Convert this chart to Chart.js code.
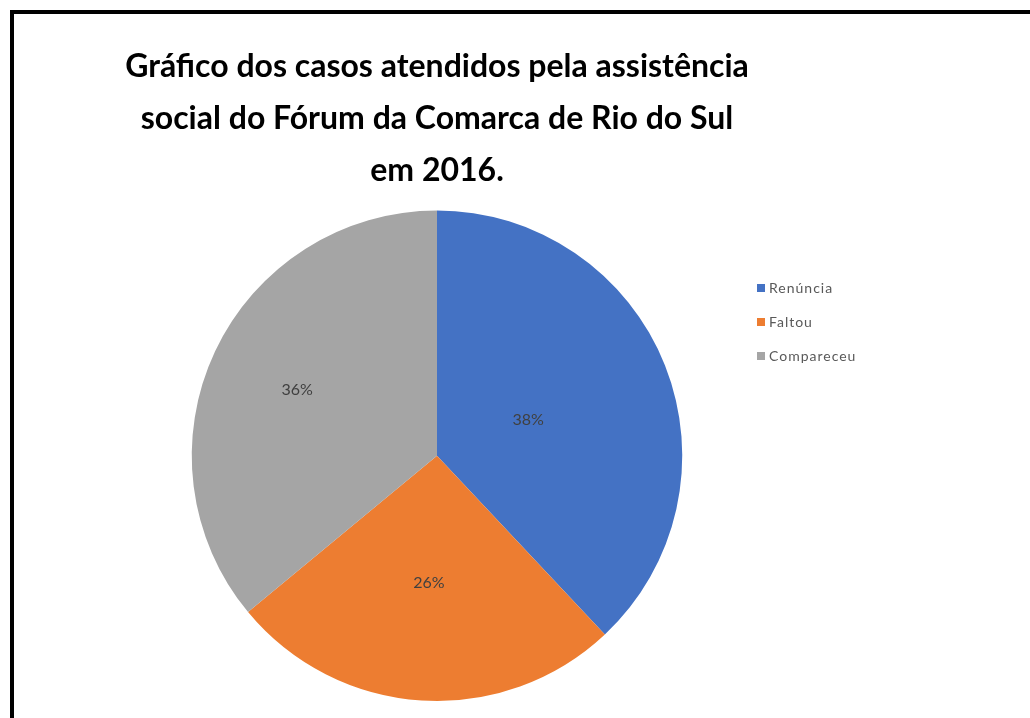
<!DOCTYPE html>
<html>
<head>
<meta charset="utf-8">
<script src="https://cdn.jsdelivr.net/npm/chart.js@4/dist/chart.umd.min.js"></script>
<style>
  html, body { margin: 0; padding: 0; background: #fff; overflow: hidden; }
  #frame { position: absolute; left: 10px; top: 10px; width: 1040px; height: 740px; border: 4px solid #000; }
  #wrap { position: absolute; left: 0; top: 0; width: 1030px; height: 718px; }
</style>
</head>
<body>
<div id="frame"></div>
<div id="wrap"><canvas id="chart"></canvas></div>
<script>
var titleLines = ["Gráfico dos casos atendidos pela assistência", "social do Fórum da Comarca de Rio do Sul", "em 2016."];
var categories = ["Renúncia", "Faltou", "Compareceu"];
var percents = [38, 26, 36];
var colors = ["#4472C4", "#ED7D31", "#A5A5A5"];
// how far out each slice label sits, as a share of the radius
var labelRadius = [0.4, 0.52, 0.63];

var sliceLabels = {
    id: "sliceLabels",
    afterDatasetsDraw: function(chart) {
        var ctx = chart.ctx;
        var meta = chart.getDatasetMeta(0);
        ctx.save();
        ctx.font = "16px Lato";
        ctx.fillStyle = "#404040";
        ctx.textAlign = "center";
        ctx.textBaseline = "middle";
        meta.data.forEach(function(arc, i) {
            var mid = (arc.startAngle + arc.endAngle) / 2;
            var r = arc.outerRadius * labelRadius[i];
            ctx.fillText(percents[i] + "%", arc.x + Math.cos(mid) * r, arc.y + Math.sin(mid) * r);
        });
        ctx.restore();
    }
};

var sideLegend = {
    id: "sideLegend",
    afterDraw: function(chart) {
        var ctx = chart.ctx;
        ctx.save();
        ctx.font = "14px Lato";
        ctx.letterSpacing = "1px";
        ctx.textBaseline = "middle";
        categories.forEach(function(name, i) {
            var y = 288 + i * 34;
            ctx.fillStyle = colors[i];
            ctx.fillRect(757, y - 4, 8, 8);
            ctx.fillStyle = "#595959";
            ctx.fillText(name, 769, y);
        });
        ctx.restore();
    }
};

new Chart(document.getElementById("chart"), {
    type: "pie",
    data: {
        labels: categories,
        datasets: [{
            data: percents,
            backgroundColor: colors,
            borderWidth: 0
        }]
    },
    options: {
        responsive: true,
        maintainAspectRatio: false,
        animation: false,
        events: [],
        layout: { padding: { left: 0, right: 156, top: 20, bottom: 17 } },
        plugins: {
            legend: { display: false },
            tooltip: { enabled: false },
            title: {
                display: true,
                text: titleLines,
                color: "#000",
                font: { family: "Lato", size: 32, weight: "bold", lineHeight: 1.62 },
                padding: { top: 21, bottom: 14 }
            }
        }
    },
    plugins: [sliceLabels, sideLegend]
});
</script>
</body>
</html>
